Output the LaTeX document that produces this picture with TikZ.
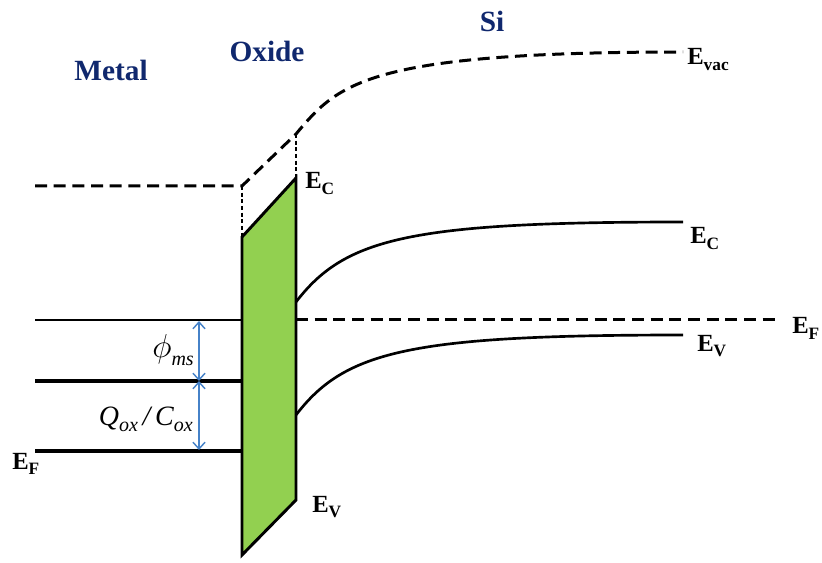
\documentclass[tikz,border=0pt]{standalone}
\usepackage{fontspec}
\setmainfont{Liberation Serif}
\usetikzlibrary{arrows.meta}
\definecolor{navy}{RGB}{16,40,110}
\definecolor{oxgreen}{RGB}{146,208,80}
\definecolor{arrblue}{RGB}{70,130,200}
\newcommand\Elab[1]{E\raisebox{-0.45ex}{\fontsize{13}{13}\selectfont #1}}
\tikzset{
  title/.style={font=\fontsize{22}{22}\selectfont\bfseries, text=navy, anchor=base, inner sep=0pt},
  elab/.style={font=\fontsize{18.5}{18.5}\selectfont\bfseries, anchor=base west, inner sep=0pt},
  bigdash/.style={line width=2.25pt, dash pattern=on 9pt off 5pt},
  thindash/.style={line width=0.9pt, dash pattern=on 3pt off 2pt},
  band/.style={line width=2pt},
  blarrow/.style={draw=arrblue, line width=1.1pt, {Straight Barb[length=5pt,width=9pt]}-{Straight Barb[length=5pt,width=9pt]}},
  mathlab/.style={font=\fontsize{21}{21}\selectfont, anchor=base east, inner sep=0pt}
}
\begin{document}
\begin{tikzpicture}[x=0.75pt,y=-0.75pt]
\useasboundingbox (0,0) rectangle (822,563);
% titles
\node[title] (metal) at (111,81) {Metal};
\node[title] (oxide) at (267,62) {Oxide};
\node[title] (si) at (492,32) {Si};
% coordinates
\coordinate (mvl) at (35,186);
\coordinate (mvr) at (242,186);
\coordinate (ovt) at (296,134);
\coordinate (vacend) at (683,52);
\coordinate (otl) at (242,237);
\coordinate (otr) at (296,178);
\coordinate (obr) at (296,500);
\coordinate (obl) at (242,555);
% oxide
\draw[line width=2.2pt, fill=oxgreen, line join=miter] (otl) -- (otr) -- (obr) -- (obl) -- cycle;
% vacuum level
\draw[bigdash] (mvl) -- (mvr) -- (ovt) .. controls (338,84) and (365,52) .. (vacend);
\draw[thindash] (mvr) -- (otl);
\draw[thindash] (ovt) -- (otr);
% metal levels
\coordinate (m1l) at (35,320); \coordinate (m1r) at (242,320);
\coordinate (m2l) at (35,381); \coordinate (m2r) at (242,381);
\coordinate (m3l) at (35,451); \coordinate (m3r) at (242,451);
\draw[line width=0.9pt] (m1l) -- (m1r);
\draw[line width=2.3pt] (m2l) -- (m2r);
\draw[line width=2.4pt] (m3l) -- (m3r);
% Si bands
\coordinate (ec0) at (296,302); \coordinate (ec1) at (683,222);
\coordinate (ev0) at (296,415); \coordinate (ev1) at (683,335);
\coordinate (ef0) at (296,320); \coordinate (ef1) at (775,320);
\draw[band] (ec0) .. controls (345,238) and (410,222) .. (ec1);
\draw[band] (ev0) .. controls (345,351) and (410,335) .. (ev1);
\draw[bigdash] (ef0) -- (ef1);
% arrows
\coordinate (a1) at (199,321); \coordinate (a2) at (199,381); \coordinate (a3) at (199,450);
\draw[blarrow] (a1) -- (a2);
\draw[blarrow] (a2) -- (a3);
\node[mathlab] (phims) at (194,358) {{\fontsize{25}{25}\selectfont$\phi$}\raisebox{-0.55ex}{\fontsize{15}{15}\selectfont\itshape ms}};
\node[mathlab] (qc) at (193,425) {\itshape Q\raisebox{-0.5ex}{\fontsize{15}{15}\selectfont ox}\,/\,C\raisebox{-0.5ex}{\fontsize{15}{15}\selectfont ox}};
% labels
\node[elab] (evac) at (687,65) {\Elab{vac}};
\node[elab] (ecox) at (305,189) {\Elab{C}};
\node[elab] (evox) at (312,512) {\Elab{V}};
\node[elab] (ecsi) at (690,244) {\Elab{C}};
\node[elab] (efsi) at (792,334) {\Elab{F}};
\node[elab] (evsi) at (697,351) {\Elab{V}};
\node[elab] (efm) at (12,469) {\Elab{F}};
\end{tikzpicture}
\end{document}
